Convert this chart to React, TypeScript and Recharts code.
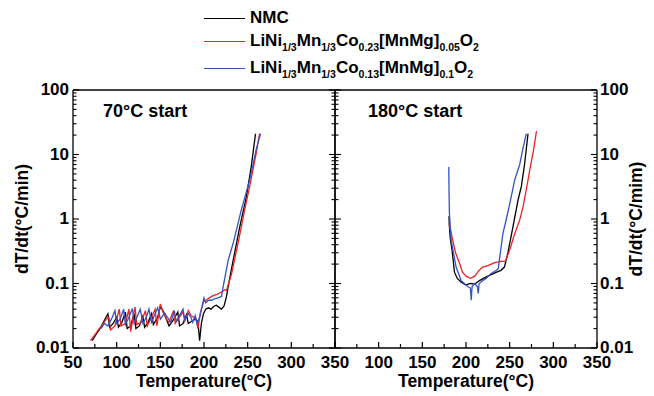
import React from 'react';
import { LineChart, Line, XAxis, YAxis } from 'recharts';

const FONT = "'Liberation Sans', Arial, Helvetica, sans-serif";

const X_TICKS = [50, 75, 100, 125, 150, 175, 200, 225, 250, 275, 300, 325, 350];
const X_LABELS_LEFT = [50, 100, 150, 200, 250, 300, 350];
const X_LABELS_RIGHT = [100, 150, 200, 250, 300, 350];
const Y_LABELS = [0.01, 0.1, 1, 10, 100];
const Y_DECADES = [0.01, 0.1, 1, 10];
const Y_TICKS = [
  ...Y_DECADES.flatMap((d) => [1, 2, 3, 4, 5, 6, 7, 8, 9].map((m) => +(d * m).toPrecision(3))),
  100,
];

// 70°C start, [temperature, dT/dt]
const nmc70: [number, number][] = [
  [72, 0.013], [76, 0.016], [80, 0.019], [84, 0.024], [90, 0.034], [92, 0.021], [96, 0.024],
  [100, 0.03], [102, 0.021], [106, 0.025], [110, 0.036], [112, 0.02], [116, 0.022], [120, 0.034],
  [122, 0.02], [126, 0.022], [130, 0.031], [132, 0.021], [136, 0.025], [140, 0.034], [142, 0.023],
  [147, 0.03], [150, 0.044], [153, 0.038], [156, 0.03], [160, 0.022], [164, 0.026], [170, 0.036],
  [172, 0.022], [176, 0.024], [180, 0.033], [182, 0.024], [186, 0.026], [190, 0.028], [193, 0.026],
  [195, 0.013], [197, 0.024], [199.4, 0.034], [202, 0.04], [205, 0.042], [208, 0.04], [211, 0.044],
  [214, 0.046], [217, 0.043], [220, 0.04], [223, 0.045], [225.8, 0.063], [227.7, 0.09],
  [233.4, 0.23], [241, 0.76], [248.5, 2.2], [254.1, 6.5], [259, 21],
];
const mg05_70: [number, number][] = [
  [70, 0.013], [75, 0.016], [80, 0.02], [84, 0.023], [88, 0.028], [91, 0.03], [93, 0.019],
  [98, 0.022], [103, 0.04], [105, 0.022], [110, 0.024], [114, 0.04], [116, 0.018], [121, 0.043],
  [123, 0.023], [128, 0.025], [133, 0.038], [135, 0.022], [140, 0.03], [144, 0.04], [146, 0.022],
  [150, 0.048], [153, 0.036], [157, 0.028], [160, 0.025], [165, 0.038], [167, 0.024], [172, 0.03],
  [176, 0.036], [178, 0.026], [182, 0.038], [185, 0.032], [188, 0.03], [191, 0.028], [193, 0.02],
  [196, 0.036], [199.4, 0.052], [203, 0.056], [206, 0.06], [208.8, 0.063], [212, 0.066],
  [215, 0.068], [218.3, 0.072], [221, 0.075], [224, 0.08], [225.8, 0.078], [231.5, 0.14],
  [239, 0.42], [246.6, 1.4], [252.3, 3.2], [259.8, 10.5], [263.6, 21],
];
const mg10_70: [number, number][] = [
  [82, 0.02], [86, 0.024], [90, 0.022], [95, 0.03], [98, 0.038], [100, 0.024], [104, 0.028],
  [108, 0.04], [110, 0.023], [114, 0.03], [118, 0.041], [120, 0.024], [124, 0.032], [127, 0.04],
  [130, 0.024], [134, 0.03], [137, 0.04], [140, 0.025], [144, 0.034], [147, 0.042], [150, 0.028],
  [155, 0.035], [158, 0.03], [162, 0.025], [166, 0.038], [168, 0.026], [172, 0.032], [176, 0.04],
  [178, 0.027], [182, 0.034], [185, 0.03], [187, 0.025], [190, 0.032], [192, 0.024], [195, 0.03],
  [198, 0.045], [200, 0.06], [202, 0.05], [205, 0.055], [208.8, 0.055], [212, 0.058],
  [216, 0.06], [220, 0.063], [222, 0.09], [227.7, 0.23], [233.4, 0.42], [242.8, 1.4],
  [252.3, 4.0], [259.8, 12], [264.7, 21],
];

// 180°C start
const nmc180: [number, number][] = [
  [180.5, 1.1], [181, 0.76], [182, 0.5], [184, 0.33], [186.8, 0.15], [190, 0.12], [194.5, 0.105],
  [200, 0.095], [205, 0.1], [210, 0.098], [215, 0.11], [220, 0.12], [225, 0.13], [230, 0.14],
  [235, 0.15], [240, 0.16], [244, 0.18], [248, 0.3], [253.8, 0.76], [259.6, 1.97],
  [263.4, 3.2], [267.2, 7.3], [271, 21],
];
const mg05_180: [number, number][] = [
  [180.5, 0.85], [182, 0.7], [184.8, 0.47], [188, 0.3], [192.4, 0.21], [196, 0.15], [200, 0.13],
  [205, 0.12], [210, 0.13], [215, 0.16], [219, 0.18], [225, 0.19], [232.8, 0.21], [240, 0.22],
  [245, 0.22], [250, 0.33], [255, 0.55], [261.5, 0.97], [265.4, 1.56], [271, 4.0], [273, 5.8],
  [277, 11], [280.7, 23],
];
const mg10_180: [number, number][] = [
  [180.3, 6.4], [180.6, 2.5], [181, 1.22], [183, 0.47], [186, 0.28], [188.7, 0.18], [194.5, 0.11],
  [202, 0.09], [205, 0.085], [206, 0.055], [207, 0.09], [210, 0.1], [213, 0.09], [214, 0.07],
  [215, 0.1], [219, 0.11], [223, 0.12], [228, 0.14], [234.7, 0.16], [237, 0.17], [240, 0.35],
  [242.3, 0.6], [246.2, 1.0], [250, 1.7], [255.7, 4.0], [261.5, 7], [265, 12], [269, 21],
];

const COLORS = ['#000000', '#ee2222', '#3352c4'];

// legend text pieces: [text, isSubscript]
const LEGEND: [string, boolean][][] = [
  [['NMC', false]],
  [['LiNi', false], ['1/3', true], ['Mn', false], ['1/3', true], ['Co', false], ['0.23', true],
    ['[MnMg]', false], ['0.05', true], ['O', false], ['2', true]],
  [['LiNi', false], ['1/3', true], ['Mn', false], ['1/3', true], ['Co', false], ['0.13', true],
    ['[MnMg]', false], ['0.1', true], ['O', false], ['2', true]],
];

const toPts = (arr: [number, number][]) => arr.map(([T, v]) => ({ T, v }));

const textStyle = { fontFamily: FONT, fontWeight: 700, fontSize: 17, fill: '#000' };
const axisLine = { stroke: '#000', strokeWidth: 1.3 };

const isMajorY = (v: number) => Y_LABELS.some((l) => Math.abs(l - v) / l < 1e-6);

const bottomTick = (labels: number[]) => (p: any) => {
  const v = p.payload.value;
  const major = v % 50 === 0;
  return (
    <g>
      <line x1={p.x} x2={p.x} y1={p.y} y2={p.y - (major ? 6 : 4)} stroke="#000" strokeWidth={1.2} />
      {labels.includes(v) && (
        <text x={p.x} y={p.y + 20} textAnchor="middle" style={textStyle}>{v}</text>
      )}
    </g>
  );
};

const topTick = (p: any) => {
  const major = p.payload.value % 50 === 0;
  return <line x1={p.x} x2={p.x} y1={p.y} y2={p.y + (major ? 6 : 4)} stroke="#000" strokeWidth={1.2} />;
};

const leftTick = (showLabels: boolean) => (p: any) => {
  const v = p.payload.value;
  const major = isMajorY(v);
  return (
    <g>
      <line x1={p.x} x2={p.x + (major ? 6 : 3.5)} y1={p.y} y2={p.y} stroke="#000" strokeWidth={1.1} />
      {showLabels && major && (
        <text x={p.x - 4} y={p.y + 5} textAnchor="end" style={textStyle}>{String(v)}</text>
      )}
    </g>
  );
};

const rightTick = (showLabels: boolean) => (p: any) => {
  const v = p.payload.value;
  const major = isMajorY(v);
  return (
    <g>
      <line x1={p.x} x2={p.x - (major ? 6 : 3.5)} y1={p.y} y2={p.y} stroke="#000" strokeWidth={1.1} />
      {showLabels && major && (
        <text x={p.x + 3} y={p.y + 5} textAnchor="start" style={textStyle}>{String(v)}</text>
      )}
    </g>
  );
};

function Panel({ series, side }: { series: [number, number][][]; side: 'left' | 'right' }) {
  const isLeft = side === 'left';
  return (
    <LineChart
      width={isLeft ? 360 : 354}
      height={396}
      margin={{ top: 85, right: 0, bottom: 0, left: 0 }}
    >
      <XAxis
        xAxisId="b"
        dataKey="T"
        type="number"
        domain={[50, 350]}
        ticks={X_TICKS}
        interval={0}
        allowDataOverflow
        height={48}
        tickSize={0}
        tickMargin={0}
        axisLine={axisLine}
        tick={bottomTick(isLeft ? X_LABELS_LEFT : X_LABELS_RIGHT)}
        label={{ value: 'Temperature(°C)', position: 'insideBottom', offset: 9, style: { ...textStyle, fontSize: 17.5 } }}
      />
      <XAxis
        xAxisId="t"
        orientation="top"
        type="number"
        domain={[50, 350]}
        ticks={X_TICKS}
        interval={0}
        allowDataOverflow
        height={5}
        tickSize={0}
        tickMargin={0}
        axisLine={axisLine}
        tick={topTick}
      />
      <YAxis
        yAxisId="l"
        dataKey="v"
        type="number"
        scale="log"
        domain={[0.01, 100]}
        ticks={Y_TICKS}
        interval={0}
        allowDataOverflow
        width={isLeft ? 73 : 35}
        tickSize={0}
        tickMargin={0}
        axisLine={axisLine}
        tick={leftTick(isLeft)}
        label={
          isLeft
            ? {
                value: 'dT/dt(°C/min)',
                angle: -90,
                position: 'insideLeft',
                offset: 22,
                style: { ...textStyle, fontSize: 17.5, textAnchor: 'middle' },
              }
            : undefined
        }
      />
      <YAxis
        yAxisId="r"
        orientation="right"
        type="number"
        scale="log"
        domain={[0.01, 100]}
        ticks={Y_TICKS}
        interval={0}
        allowDataOverflow
        width={isLeft ? 25 : 57}
        tickSize={0}
        tickMargin={0}
        axisLine={axisLine}
        tick={rightTick(!isLeft)}
        label={
          !isLeft
            ? {
                value: 'dT/dt(°C/mim)',
                angle: -90,
                position: 'insideRight',
                offset: 18,
                style: { ...textStyle, fontSize: 17.5, textAnchor: 'middle' },
              }
            : undefined
        }
      />
      {series.map((s, i) => (
        <Line
          key={i}
          xAxisId="b"
          yAxisId="l"
          data={toPts(s)}
          dataKey="v"
          type="linear"
          stroke={COLORS[i]}
          strokeWidth={1.3}
          dot={false}
          isAnimationActive={false}
        />
      ))}
    </LineChart>
  );
}

export default function App() {
  return (
    <div style={{ position: 'relative', width: 654, height: 396, background: '#fff', overflow: 'hidden' }}>
      <style>{'body{margin:0}'}</style>
      <div style={{ position: 'absolute', left: 0, top: 0 }}>
        <Panel series={[nmc70, mg05_70, mg10_70]} side="left" />
      </div>
      <div style={{ position: 'absolute', left: 300, top: 0 }}>
        <Panel series={[nmc180, mg05_180, mg10_180]} side="right" />
      </div>

      <div style={{ position: 'absolute', left: 103, top: 101, font: `700 18px ${FONT}` }}>70°C start</div>
      <div style={{ position: 'absolute', left: 368, top: 101, font: `700 18px ${FONT}` }}>180°C start</div>

      {LEGEND.map((parts, i) => (
        <div
          key={i}
          style={{
            position: 'absolute',
            left: 204,
            top: [18, 41, 68][i] - 10,
            height: 20,
            display: 'flex',
            alignItems: 'center',
            whiteSpace: 'nowrap',
          }}
        >
          <div style={{ width: 41, height: 0, borderTop: `1.4px solid ${COLORS[i]}`, marginRight: 5 }} />
          <span style={{ font: `700 17px ${FONT}`, color: '#000' }}>
            {parts.map(([t, sub], j) =>
              sub ? (
                <span key={j} style={{ fontSize: 10.5, position: 'relative', top: 5 }}>{t}</span>
              ) : (
                <span key={j}>{t}</span>
              )
            )}
          </span>
        </div>
      ))}
    </div>
  );
}
